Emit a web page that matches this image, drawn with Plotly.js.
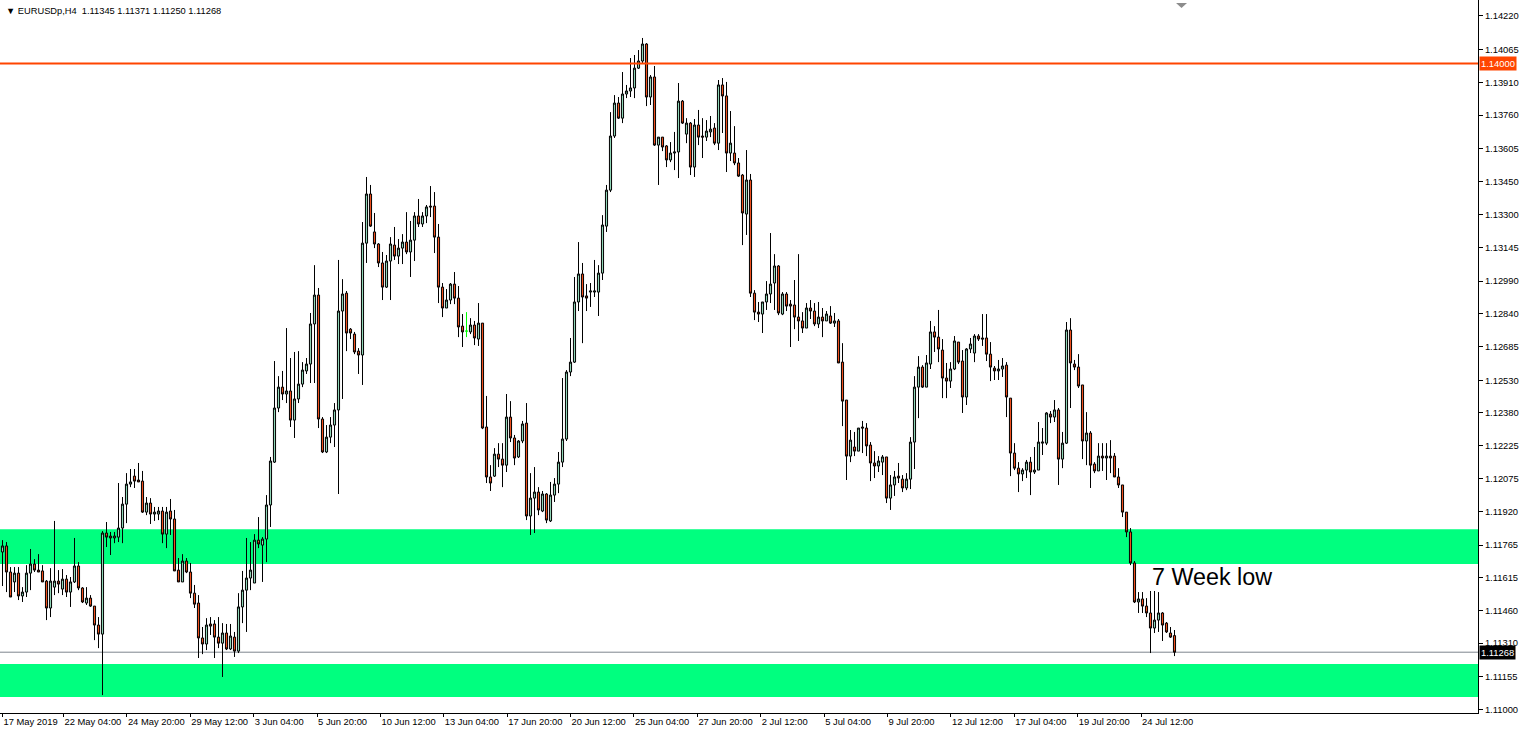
<!DOCTYPE html>
<html><head><meta charset="utf-8">
<script src="https://cdn.plot.ly/plotly-3.0.1.min.js"></script>
<style>html,body{margin:0;padding:0;background:#fff;overflow:hidden}#chart{width:1526px;height:730px}</style>
</head><body><div id="chart"></div>
<script>
const symbolTitle = "EURUSDp,H4";
const lastOHLC = ["1.11345", "1.11371", "1.11250", "1.11268"];

const openP = [
1.11733,1.11761,1.11640,1.11594,1.11635,1.11529,1.11547,1.11635,1.11677,1.11649,
1.11645,1.11598,1.11473,1.11570,1.11598,1.11561,1.11607,1.11547,1.11594,1.11668,
1.11566,1.11496,1.11519,1.11482,1.11394,1.11352,1.11821,1.11807,1.11798,1.11802,
1.11844,1.11955,1.12048,1.12085,1.12067,1.12062,1.11918,1.11960,1.11909,1.11909,
1.11923,1.11816,1.11923,1.11886,1.11649,1.11594,1.11691,1.11640,1.11542,1.11496,
1.11334,1.11306,1.11399,1.11399,1.11338,1.11310,1.11357,1.11283,1.11338,1.11273,
1.11478,1.11556,1.11612,1.11589,1.11788,1.11765,1.11793,1.11951,1.12150,1.12401,
1.12498,1.12466,1.12480,1.12345,1.12443,1.12512,1.12573,1.12605,1.12791,1.12925,
1.12350,1.12197,1.12266,1.12322,1.12392,1.12851,1.12934,1.12767,1.12744,1.12665,
1.12647,1.13166,1.13394,1.13218,1.13162,1.13074,1.12962,1.13083,1.13157,1.13106,
1.13143,1.13171,1.13125,1.13180,1.13292,1.13255,1.13292,1.13338,1.13338,1.13194,
1.12962,1.12865,1.12902,1.12976,1.12911,1.12781,1.12758,1.12754,1.12786,1.12721,
1.12795,1.12313,1.12081,1.12085,1.12187,1.12164,1.12136,1.12359,1.12262,1.12174,
1.12248,1.12331,1.11900,1.11983,1.12011,1.11923,1.12002,1.11877,1.11997,1.12048,
1.12150,1.12257,1.12568,1.12614,1.12893,1.13023,1.12921,1.12939,1.12939,1.12939,
1.13027,1.13245,1.13412,1.13663,1.13816,1.13746,1.13858,1.13872,1.13886,1.13978,
1.14011,1.14090,1.13844,1.13937,1.13621,1.13658,1.13617,1.13552,1.13584,1.13589,
1.13825,1.13672,1.13723,1.13519,1.13714,1.13663,1.13658,1.13682,1.13700,1.13630,
1.13900,1.13849,1.13584,1.13584,1.13538,1.13482,1.13301,1.13459,1.12934,1.12846,
1.12837,1.12893,1.12930,1.12981,1.13060,1.12837,1.12930,1.12883,1.12879,1.12823,
1.12805,1.12772,1.12865,1.12851,1.12791,1.12823,1.12805,1.12828,1.12795,1.12805,
1.12614,1.12438,1.12178,1.12220,1.12201,1.12313,1.12308,1.12229,1.12146,1.12132,
1.12150,1.12174,1.11983,1.12044,1.12085,1.12071,1.12030,1.12071,1.12243,1.12498,
1.12591,1.12498,1.12605,1.12754,1.12730,1.12670,1.12540,1.12526,1.12582,1.12707,
1.12619,1.12452,1.12675,1.12656,1.12735,1.12726,1.12726,1.12651,1.12586,1.12573,
1.12582,1.12600,1.12447,1.12192,1.12122,1.12095,1.12113,1.12150,1.12104,1.12113,
1.12238,1.12238,1.12373,1.12359,1.12392,1.12164,1.12238,1.12763,1.12605,1.12591,
1.12508,1.12248,1.12285,1.12141,1.12109,1.12178,1.12169,1.12178,1.12178,1.12081,
1.12044,1.11918,1.11826,1.11682,1.11501,1.11515,1.11482,1.11450,1.11380,1.11417,
1.11450,1.11403,1.11357,1.11345];

const highP = [
1.11788,1.11779,1.11663,1.11663,1.11663,1.11570,1.11672,1.11747,1.11700,1.11723,
1.11672,1.11603,1.11658,1.11877,1.11649,1.11654,1.11626,1.11617,1.11798,1.11686,
1.11570,1.11570,1.11533,1.11482,1.11431,1.11830,1.11872,1.11826,1.11826,1.12053,
1.11988,1.12099,1.12118,1.12118,1.12146,1.12109,1.11988,1.11983,1.11942,1.11942,
1.11942,1.11942,1.11979,1.11928,1.11705,1.11723,1.11705,1.11682,1.11580,1.11533,
1.11385,1.11426,1.11431,1.11417,1.11431,1.11403,1.11399,1.11399,1.11362,1.11542,
1.11645,1.11798,1.11779,1.11816,1.11895,1.11802,1.11997,1.12174,1.12619,1.12549,
1.12573,1.12772,1.12633,1.12661,1.12665,1.12614,1.12633,1.12842,1.13064,1.12958,
1.12359,1.12322,1.12359,1.12424,1.13088,1.12999,1.12944,1.12772,1.12754,1.12679,
1.13264,1.13473,1.13436,1.13306,1.13166,1.13125,1.13111,1.13194,1.13241,1.13185,
1.13208,1.13310,1.13269,1.13310,1.13371,1.13310,1.13343,1.13431,1.13403,1.13255,
1.12981,1.12953,1.12981,1.13032,1.12967,1.12837,1.12846,1.12818,1.12805,1.12888,
1.12795,1.12457,1.12136,1.12215,1.12238,1.12238,1.12466,1.12433,1.12276,1.12252,
1.12341,1.12424,1.12099,1.12127,1.12034,1.12016,1.12006,1.12058,1.12076,1.12197,
1.12540,1.12577,1.12726,1.13009,1.13171,1.13074,1.12976,1.12981,1.13088,1.13064,
1.13296,1.13436,1.13774,1.13853,1.13844,1.13960,1.13900,1.14025,1.14039,1.14062,
1.14118,1.14094,1.13946,1.13988,1.13658,1.13658,1.13621,1.13635,1.13682,1.13909,
1.13830,1.13746,1.13728,1.13742,1.13784,1.13746,1.13737,1.13756,1.13723,1.13923,
1.13932,1.13914,1.13779,1.13709,1.13561,1.13487,1.13598,1.13487,1.12948,1.12893,
1.12893,1.12990,1.13213,1.13115,1.13064,1.12939,1.12939,1.12902,1.12995,1.13115,
1.12846,1.12888,1.12902,1.12888,1.12893,1.12865,1.12851,1.12874,1.12842,1.12814,
1.12702,1.12438,1.12299,1.12290,1.12308,1.12341,1.12331,1.12243,1.12201,1.12178,
1.12183,1.12174,1.12090,1.12109,1.12146,1.12090,1.12099,1.12266,1.12549,1.12642,
1.12600,1.12647,1.12805,1.12781,1.12856,1.12721,1.12610,1.12614,1.12735,1.12707,
1.12670,1.12679,1.12726,1.12744,1.12744,1.12837,1.12837,1.12707,1.12596,1.12624,
1.12633,1.12614,1.12447,1.12238,1.12150,1.12122,1.12160,1.12174,1.12220,1.12336,
1.12308,1.12382,1.12387,1.12438,1.12401,1.12290,1.12800,1.12818,1.12624,1.12651,
1.12508,1.12382,1.12294,1.12150,1.12238,1.12238,1.12238,1.12252,1.12192,1.12122,
1.12044,1.11918,1.11844,1.11691,1.11547,1.11547,1.11519,1.11552,1.11552,1.11547,
1.11454,1.11408,1.11385,1.11371];

const lowP = [
1.11575,1.11547,1.11524,1.11547,1.11510,1.11501,1.11524,1.11556,1.11640,1.11640,
1.11594,1.11417,1.11431,1.11533,1.11542,1.11533,1.11524,1.11478,1.11589,1.11556,
1.11496,1.11487,1.11478,1.11324,1.11287,1.11069,1.11756,1.11719,1.11774,1.11779,
1.11774,1.11867,1.12034,1.12030,1.12058,1.11914,1.11904,1.11863,1.11877,1.11881,
1.11774,1.11751,1.11812,1.11645,1.11594,1.11594,1.11635,1.11519,1.11473,1.11241,
1.11259,1.11278,1.11348,1.11241,1.11287,1.11153,1.11278,1.11278,1.11246,1.11264,
1.11403,1.11362,1.11556,1.11589,1.11751,1.11594,1.11686,1.11849,1.12146,1.12382,
1.12438,1.12424,1.12313,1.12262,1.12424,1.12498,1.12559,1.12517,1.12517,1.12308,
1.12192,1.12192,1.12238,1.12220,1.12002,1.12443,1.12665,1.12721,1.12651,1.12559,
1.12508,1.13074,1.13241,1.13143,1.13055,1.12902,1.12958,1.12902,1.13088,1.13069,
1.13069,1.13115,1.13009,1.13083,1.13241,1.13241,1.13259,1.13287,1.13120,1.12888,
1.12823,1.12865,1.12883,1.12883,1.12730,1.12684,1.12730,1.12744,1.12693,1.12689,
1.12303,1.12053,1.12016,1.12081,1.12127,1.12034,1.12104,1.12243,1.12136,1.12169,
1.12238,1.11881,1.11812,1.11821,1.11904,1.11918,1.11867,1.11872,1.11965,1.12006,
1.12127,1.12248,1.12549,1.12610,1.12851,1.12702,1.12851,1.12870,1.12916,1.12828,
1.12995,1.13218,1.13403,1.13654,1.13742,1.13723,1.13839,1.13844,1.13839,1.13974,
1.14002,1.13802,1.13807,1.13617,1.13436,1.13593,1.13519,1.13542,1.13505,1.13468,
1.13719,1.13630,1.13482,1.13473,1.13621,1.13561,1.13640,1.13658,1.13621,1.13598,
1.13677,1.13496,1.13547,1.13528,1.13473,1.13157,1.13204,1.12916,1.12809,1.12800,
1.12749,1.12856,1.12888,1.12856,1.12832,1.12832,1.12851,1.12684,1.12767,1.12712,
1.12749,1.12772,1.12814,1.12781,1.12772,1.12730,1.12805,1.12791,1.12777,1.12610,
1.12317,1.12067,1.12150,1.12178,1.12201,1.12192,1.12178,1.12062,1.12076,1.12104,
1.12090,1.11960,1.11928,1.11993,1.12053,1.12011,1.12020,1.12025,1.12118,1.12354,
1.12494,1.12498,1.12582,1.12661,1.12614,1.12447,1.12447,1.12494,1.12577,1.12605,
1.12378,1.12415,1.12656,1.12614,1.12712,1.12689,1.12619,1.12526,1.12531,1.12531,
1.12545,1.12359,1.12085,1.12113,1.12011,1.12062,1.12076,1.11997,1.12095,1.12113,
1.12183,1.12229,1.12331,1.12336,1.12044,1.12122,1.12234,1.12401,1.12577,1.12494,
1.12164,1.12136,1.12030,1.12099,1.12109,1.12109,1.12067,1.12099,1.12081,1.12030,
1.11895,1.11802,1.11672,1.11496,1.11450,1.11450,1.11431,1.11264,1.11357,1.11362,
1.11320,1.11357,1.11334,1.11250];

const closeP = [
1.11761,1.11640,1.11524,1.11635,1.11529,1.11547,1.11635,1.11677,1.11649,1.11640,
1.11594,1.11473,1.11598,1.11598,1.11584,1.11607,1.11547,1.11594,1.11668,1.11566,
1.11501,1.11519,1.11482,1.11394,1.11352,1.11821,1.11802,1.11798,1.11807,1.11844,
1.11955,1.12048,1.12058,1.12062,1.12058,1.11918,1.11960,1.11909,1.11918,1.11923,
1.11816,1.11918,1.11886,1.11645,1.11594,1.11691,1.11640,1.11542,1.11491,1.11334,
1.11306,1.11394,1.11389,1.11338,1.11310,1.11357,1.11283,1.11343,1.11273,1.11478,
1.11556,1.11612,1.11649,1.11788,1.11770,1.11793,1.11951,1.12155,1.12401,1.12498,
1.12466,1.12480,1.12345,1.12443,1.12512,1.12577,1.12605,1.12791,1.12925,1.12350,
1.12197,1.12266,1.12322,1.12392,1.12851,1.12930,1.12749,1.12749,1.12661,1.12647,
1.13166,1.13394,1.13245,1.13162,1.13074,1.12962,1.13083,1.13162,1.13106,1.13143,
1.13171,1.13125,1.13180,1.13292,1.13255,1.13292,1.13334,1.13334,1.13194,1.12962,
1.12865,1.12902,1.12976,1.12911,1.12777,1.12754,1.12758,1.12786,1.12726,1.12795,
1.12308,1.12081,1.12053,1.12187,1.12164,1.12136,1.12359,1.12262,1.12169,1.12248,
1.12327,1.11900,1.11983,1.12011,1.11928,1.12002,1.11881,1.11997,1.12048,1.12150,
1.12257,1.12568,1.12614,1.12893,1.13023,1.12916,1.12911,1.12944,1.12944,1.13027,
1.13250,1.13412,1.13663,1.13816,1.13746,1.13858,1.13872,1.13886,1.13978,1.14011,
1.14090,1.13844,1.13937,1.13621,1.13658,1.13612,1.13552,1.13584,1.13589,1.13825,
1.13723,1.13723,1.13519,1.13714,1.13658,1.13658,1.13686,1.13695,1.13630,1.13900,
1.13849,1.13584,1.13630,1.13538,1.13477,1.13306,1.13459,1.12934,1.12846,1.12837,
1.12893,1.12930,1.12976,1.13060,1.12842,1.12930,1.12874,1.12874,1.12823,1.12805,
1.12772,1.12865,1.12851,1.12791,1.12823,1.12805,1.12837,1.12795,1.12805,1.12610,
1.12433,1.12178,1.12252,1.12201,1.12308,1.12308,1.12225,1.12146,1.12132,1.12155,
1.12174,1.11983,1.12044,1.12081,1.12076,1.12030,1.12071,1.12243,1.12498,1.12591,
1.12498,1.12610,1.12754,1.12730,1.12675,1.12540,1.12526,1.12582,1.12712,1.12614,
1.12452,1.12675,1.12698,1.12735,1.12721,1.12721,1.12651,1.12591,1.12573,1.12582,
1.12596,1.12452,1.12192,1.12122,1.12095,1.12113,1.12150,1.12104,1.12113,1.12243,
1.12243,1.12378,1.12359,1.12392,1.12164,1.12238,1.12763,1.12610,1.12591,1.12503,
1.12248,1.12285,1.12136,1.12109,1.12178,1.12169,1.12178,1.12169,1.12081,1.12044,
1.11918,1.11826,1.11682,1.11501,1.11515,1.11482,1.11450,1.11380,1.11417,1.11450,
1.11394,1.11362,1.11338,1.11268];

const dojiBars = [116];
const timeTickText = ["17 May 2019", "22 May 04:00", "24 May 20:00", "29 May 12:00", "3 Jun 04:00", "5 Jun 20:00",
  "10 Jun 12:00", "13 Jun 04:00", "17 Jun 20:00", "20 Jun 12:00", "25 Jun 04:00", "27 Jun 20:00", "2 Jul 12:00",
  "5 Jul 04:00", "9 Jul 20:00", "12 Jul 12:00", "17 Jul 04:00", "19 Jul 20:00", "24 Jul 12:00"];
const priceTicks = [1.14220, 1.14065, 1.13910, 1.13760, 1.13605, 1.13450, 1.13300, 1.13145, 1.12990, 1.12840, 1.12685,
  1.12530, 1.12380, 1.12225, 1.12075, 1.11920, 1.11765, 1.11615, 1.11460, 1.11310, 1.11155, 1.11000];
const priceTickText = ["1.14220", "1.14065", "1.13910", "1.13760", "1.13605", "1.13450", "1.13300", "1.13145", "1.12990",
  "1.12840", "1.12685", "1.12530", "1.12380", "1.12225", "1.12075", "1.11920", "1.11765", "1.11615", "1.11460", "1.11310",
  "1.11155", "1.11000"];
const zoneLow = [1.11677, 1.11060];
const zoneHigh = [1.11839, 1.11213];
const resistanceLevel = 1.14000;
const resistanceText = "1.14000";
const bidLevel = 1.11268;
const bidText = "1.11268";
const noteText = "7 Week low";
const notePrice = 1.11617;

// label slots of the time scale (in bar units, as placed by the terminal)
const timeTickSlots = [0, 15.25, 31.10, 46.94, 62.79, 78.64, 94.49, 110.33, 126.18, 142.03, 157.87, 173.72,
  189.57, 205.41, 221.26, 237.11, 252.95, 268.80, 284.65];

const idx = openP.map((_, i) => i);
const isDoji = i => dojiBars.indexOf(i) >= 0;
const mainTrace = {
  type: 'candlestick',
  x: idx,
  open: openP.map((v, i) => isDoji(i) ? null : v),
  high: highP.map((v, i) => isDoji(i) ? null : v),
  low: lowP.map((v, i) => isDoji(i) ? null : v),
  close: closeP.map((v, i) => isDoji(i) ? null : v),
  increasing: {line: {color: '#000000', width: 1}, fillcolor: '#8fd5b6'},
  decreasing: {line: {color: '#000000', width: 1}, fillcolor: '#ef4f1d'},
  whiskerwidth: 0,
  hoverinfo: 'skip',
  showlegend: false
};
const dojiTrace = {
  type: 'candlestick',
  x: dojiBars,
  open: dojiBars.map(i => openP[i]),
  high: dojiBars.map(i => highP[i]),
  low: dojiBars.map(i => lowP[i]),
  close: dojiBars.map(i => closeP[i]),
  increasing: {line: {color: '#00ff00', width: 1}, fillcolor: '#00ff00'},
  decreasing: {line: {color: '#00ff00', width: 1}, fillcolor: '#00ff00'},
  whiskerwidth: 0,
  hoverinfo: 'skip',
  showlegend: false
};

const axisFont = {family: 'Liberation Sans, Arial, sans-serif', size: 9.4, color: '#000000'};
const shapes = [];
for (let k = 0; k < zoneLow.length; k++) {
  shapes.push({type: 'rect', xref: 'paper', yref: 'y', x0: 0, x1: 1, y0: zoneLow[k], y1: zoneHigh[k],
    fillcolor: '#00ff7f', line: {width: 0}, layer: 'below'});
}
shapes.push({type: 'line', xref: 'paper', yref: 'y', x0: 0, x1: 1, y0: bidLevel, y1: bidLevel,
  line: {color: '#7d858d', width: 1}, layer: 'below'});
shapes.push({type: 'line', xref: 'paper', yref: 'y', x0: 0, x1: 1, y0: resistanceLevel, y1: resistanceLevel,
  line: {color: '#ff4500', width: 2}, layer: 'above'});
shapes.push({type: 'path', xref: 'paper', yref: 'paper',
  path: 'M 0.7957 0.9958 L 0.8031 0.9958 L 0.7994 0.9888 Z', fillcolor: '#8c8c8c', line: {width: 0}});

const annotations = [
  {xref: 'paper', yref: 'paper', x: 0.0024, y: 0.9846, xanchor: 'left', yanchor: 'middle', showarrow: false,
   text: '▼ ' + symbolTitle + '  ' + lastOHLC.join(' '), font: {family: 'Liberation Sans, Arial, sans-serif', size: 9.3, color: '#000'}},
  {xref: 'x', yref: 'y', x: 286.9, y: notePrice, xanchor: 'left', yanchor: 'middle', showarrow: false,
   text: noteText, font: {family: 'Liberation Sans, Arial, sans-serif', size: 23.3, color: '#000'}},
  {xref: 'paper', yref: 'y', x: 1, y: resistanceLevel, xanchor: 'left', yanchor: 'middle', showarrow: false, xshift: 1,
   text: resistanceText, bgcolor: '#ff4500', borderpad: 1, font: {family: 'Liberation Sans, Arial, sans-serif', size: 9.4, color: '#ffffff'}},
  {xref: 'paper', yref: 'y', x: 1, y: bidLevel, xanchor: 'left', yanchor: 'middle', showarrow: false, xshift: 1,
   text: bidText, bgcolor: '#000000', borderpad: 1, font: {family: 'Liberation Sans, Arial, sans-serif', size: 9.4, color: '#ffffff'}}
];

const layout = {
  width: 1526, height: 730,
  margin: {l: 0, r: 48, t: 0, b: 17, pad: 0, autoexpand: false},
  paper_bgcolor: '#ffffff', plot_bgcolor: '#ffffff',
  showlegend: false,
  boxgap: 0.25,
  xaxis: {
    range: [-0.625, 368.875], showgrid: false, zeroline: false,
    showline: true, linecolor: '#000000', linewidth: 1,
    ticks: 'outside', ticklen: 3, tickcolor: '#000000',
    tickmode: 'array', tickvals: timeTickSlots, ticktext: timeTickText,
    tickangle: 0, autotickangles: [0],
    ticklabelposition: 'outside right', tickfont: axisFont,
    rangeslider: {visible: false}, fixedrange: true
  },
  yaxis: {
    side: 'right', range: [1.109859, 1.142942], showgrid: false, zeroline: false,
    showline: true, linecolor: '#000000', linewidth: 1,
    ticks: 'outside', ticklen: 4, tickcolor: '#000000',
    tickmode: 'array', tickvals: priceTicks, ticktext: priceTickText,
    tickfont: axisFont, fixedrange: true
  },
  shapes: shapes,
  annotations: annotations
};

Plotly.newPlot('chart', [mainTrace, dojiTrace], layout, {staticPlot: true, displayModeBar: false});
</script>
</body></html>
